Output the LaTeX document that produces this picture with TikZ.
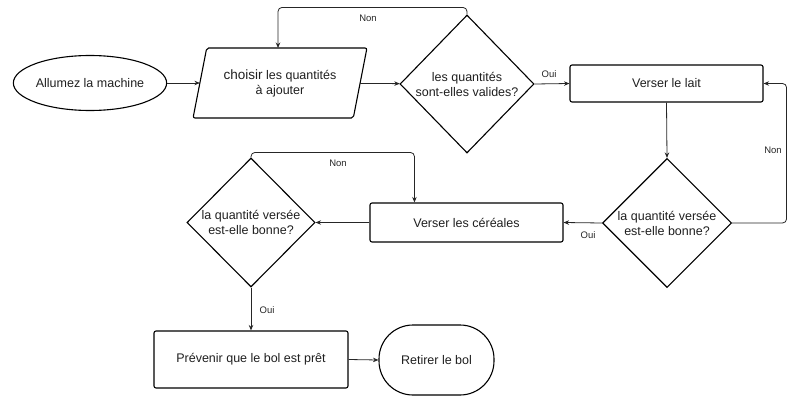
\documentclass[tikz,border=0pt]{standalone}
\usepackage{fontspec}
\setmainfont{Liberation Sans}
\usetikzlibrary{shapes.geometric,arrows.meta,calc}
\begin{document}
\begin{tikzpicture}[x=1pt,y=-1pt,
  every node/.style={text=black!88, font=\fontsize{12.5}{15}\selectfont, align=center},
  shp/.style={draw=black, line width=1.1pt},
  proc/.style={shp, rectangle, rounded corners=2pt, inner sep=0pt},
  dec/.style={shp, diamond, inner sep=0pt, aspect=1},
  arr/.style={draw=black!85, line width=0.8pt, -{Stealth[length=5.5pt,width=4.5pt]}},
  lbl/.style={font=\fontsize{9.5}{11}\selectfont, text=black!85, inner sep=0pt}
]
\useasboundingbox (0,0) rectangle (800,412);
\node[shp, ellipse, minimum width=145pt, minimum height=55pt, inner sep=0pt] (start) at (90,83) {Allumez la machine};
\node[shp, trapezium, trapezium left angle=69, trapezium right angle=111, trapezium stretches=true,
      minimum width=174pt, minimum height=70pt, inner sep=0pt, outer sep=0pt, rounded corners=2pt] (par) at (280,83)
      {{\fontsize{13.5}{15}\selectfont choisir} les quantités\\à ajouter};
\node[dec, minimum width=134pt, minimum height=138pt] (d1) at (467,84) {les quantités\\sont-elles valides?};
\node[proc, minimum width=193pt, minimum height=37pt] (lait) at (666.5,83.5) {Verser le lait};
\node[dec, minimum width=129pt, minimum height=129pt] (d2) at (667,223) {la quantité versée\\est-elle bonne?};
\node[proc, minimum width=193pt, minimum height=39pt] (cer) at (466.5,222.5) {Verser les céréales};
\node[dec, minimum width=128pt, minimum height=129pt] (d3) at (251,222.5) {la quantité versée\\est-elle bonne?};
\node[proc, minimum width=194pt, minimum height=57pt] (prev) at (251,359.5) {Prévenir que le bol est prêt};
\node[shp, rectangle, rounded corners=34pt, minimum width=115pt, minimum height=70pt, inner sep=0pt] (fin) at (436.5,360) {Retirer le bol};

\draw[arr] (start) -- (par);
\draw[arr] (par) -- (d1);
\draw[arr, rounded corners=4pt] (d1.north) -- ++(0,-7) -| ($(par.north)+(-2,0)$);
\node[lbl] (l1) at (368,18) {Non};
\draw[arr] (d1.east) -- (lait.west);
\node[lbl] (l2) at (549,74) {Oui};
\draw[arr] (lait.south) -- (d2.north);
\draw[arr, rounded corners=4pt] (d2.east) -| ($(lait.east)+(23,0)$) -- (lait.east);
\node[lbl] (l3) at (773,150) {Non};
\draw[arr] (d2.west) -- (cer.east);
\node[lbl] (l4) at (588,235) {Oui};
\draw[arr] (cer.west) -- (d3.east);
\draw[arr, rounded corners=4pt] (d3.north) -- ++(0,-5) -| ($(cer.north west)+(45,0)$);
\node[lbl] (l5) at (338,163) {Non};
\draw[arr] (d3.south) -- (prev.north);
\node[lbl] (l6) at (267,310) {Oui};
\draw[arr] (prev.east) -- (fin.west);
\end{tikzpicture}
\end{document}
